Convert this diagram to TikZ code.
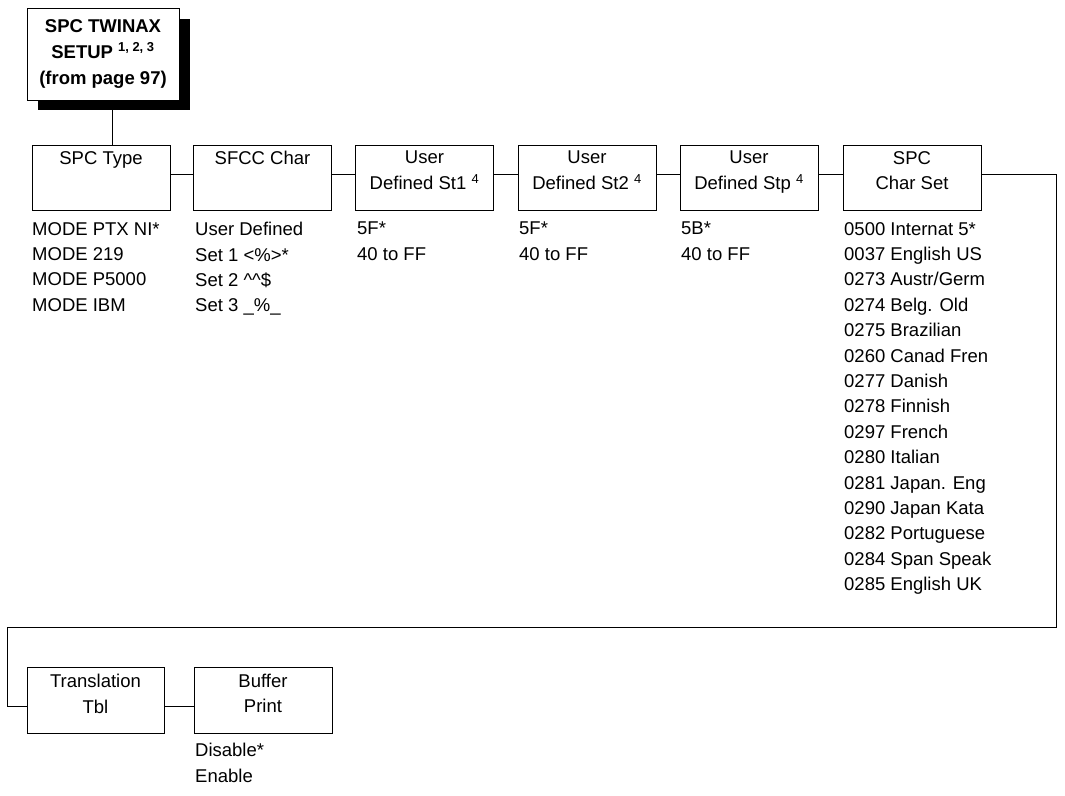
\documentclass[tikz,border=0pt]{standalone}
\usepackage{fontspec}
\setmainfont{Liberation Sans}
\usetikzlibrary{calc}
\begin{document}
\begin{tikzpicture}[x=1pt,y=-1pt,
  box/.style={draw,line width=1pt,fill=white},
  t/.style={font=\fontsize{18.5}{25.4}\selectfont,inner sep=0pt},
  tb/.style={font=\fontsize{18.5}{26}\selectfont\bfseries,inner sep=0pt},
  ln/.style={line width=1pt}]
\useasboundingbox (0,0) rectangle (1065,795);
% top box
\fill (38,19) rectangle (190,110);
\draw[box] (27,8) rectangle (179,100);
\node[tb,anchor=north,align=center] (top) at (103,19) {SPC TWINAX\\SETUP \textsuperscript{1, 2, 3}\\(from page 97)};
\coordinate (topb) at (112,100);
% row boxes
\foreach \n/\x in {a/32,b/193.5,c/355.5,d/518,e/680,f/843}{
  \draw[box] (\x,145) rectangle ++(138,65);
  \coordinate (\n w) at (\x,174); \coordinate (\n e) at ($(\x,174)+(138,0)$);
}
\node[t,anchor=north] (ta) at (101,151) {SPC Type};
\node[t,anchor=north] (tb) at (262.5,151) {SFCC Char};
\node[t,anchor=north,align=center] (tc) at (424.5,151) {User\\Defined St1 \textsuperscript{4}};
\node[t,anchor=north,align=center] (td) at (587,151) {User\\Defined St2 \textsuperscript{4}};
\node[t,anchor=north,align=center] (te) at (749,151) {User\\Defined Stp \textsuperscript{4}};
\node[t,anchor=north,align=center] (tf) at (912,151) {SPC\\Char Set};
% connectors
\draw[ln] (topb) -- (112,145);
\draw[ln] (ae) -- (bw);
\draw[ln] (be) -- (cw);
\draw[ln] (ce) -- (dw);
\draw[ln] (de) -- (ew);
\draw[ln] (ee) -- (fw);
% lists
\node[t,anchor=north west,align=left] (la) at (32,222) {MODE PTX NI*\\MODE 219\\MODE P5000\\MODE IBM};
\node[t,anchor=north west,align=left] (lb) at (195,222) {User Defined\\Set 1 <\%>*\\Set 2 \^{}\^{}\$\\Set 3 \_\%\_};
\node[t,anchor=north west,align=left] (lc) at (357,222) {5F*\\40 to FF};
\node[t,anchor=north west,align=left] (ld) at (519,222) {5F*\\40 to FF};
\node[t,anchor=north west,align=left] (le) at (681,222) {5B*\\40 to FF};
\node[t,anchor=north west,align=left] (lf) at (844,222) {0500 Internat 5*\\0037 English US\\0273 Austr/Germ\\0274 Belg. Old\\0275 Brazilian\\0260 Canad Fren\\0277 Danish\\0278 Finnish\\0297 French\\0280 Italian\\0281 Japan. Eng\\0290 Japan Kata\\0282 Portuguese\\0284 Span Speak\\0285 English UK};
% bottom row
\draw[box] (27,667) rectangle (164,733);
\draw[box] (194,667) rectangle (332,733);
\coordinate (gw) at (27,706); \coordinate (ge) at (164,706);
\coordinate (hw) at (194,706);
\node[t,anchor=north,align=center] (tg) at (95.5,674) {Translation\\Tbl};
\node[t,anchor=north,align=center] (th) at (263,674) {Buffer\\Print};
\draw[ln] (fe) -| (1056,627) -| (7,706) -- (gw);
\draw[ln] (ge) -- (hw);
\node[t,anchor=north west,align=left] (lh) at (195,743) {Disable*\\Enable};
\end{tikzpicture}
\end{document}
